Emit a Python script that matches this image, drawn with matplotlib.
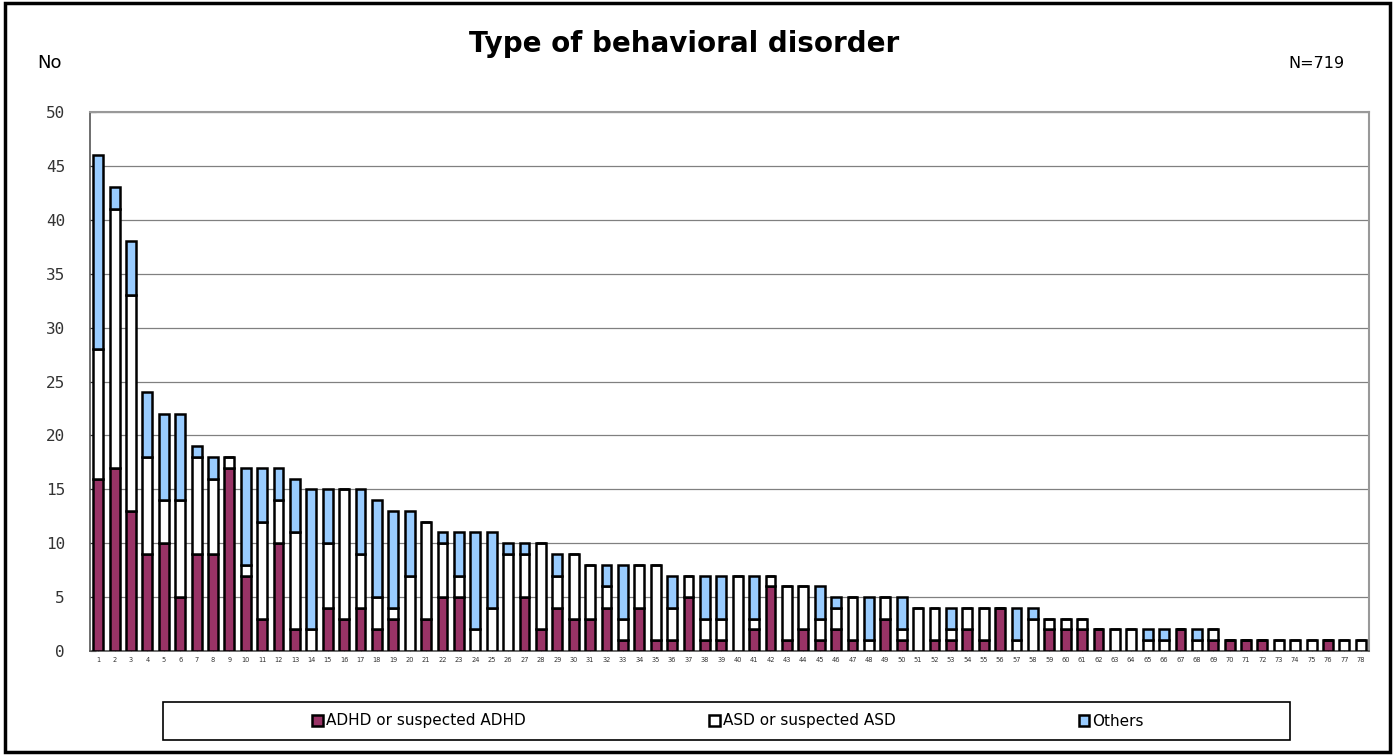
import matplotlib
matplotlib.use("Agg")
import matplotlib.pyplot as plt
from matplotlib.patches import Rectangle
import numpy as np

categories = [str(i) for i in range(1, 79)]
adhd = [16, 17, 13, 9, 10, 5, 9, 9, 17, 7, 3, 10, 2, 0, 4, 3, 4, 2, 3, 0,
        3, 5, 5, 0, 0, 0, 5, 2, 4, 3, 3, 4, 1, 4, 1, 1, 5, 1, 1, 0,
        2, 6, 1, 2, 1, 2, 1, 0, 3, 1, 0, 1, 1, 2, 1, 4, 0, 0, 2, 2,
        2, 2, 0, 0, 0, 0, 2, 0, 1, 1, 1, 1, 0, 0, 0, 1, 0, 0]
asd = [12, 24, 20, 9, 4, 9, 9, 7, 1, 1, 9, 4, 9, 2, 6, 12, 5, 3, 1, 7,
       9, 5, 2, 2, 4, 9, 4, 8, 3, 6, 5, 2, 2, 4, 7, 3, 2, 2, 2, 7,
       1, 1, 5, 4, 2, 2, 4, 1, 2, 1, 4, 3, 1, 2, 3, 0, 1, 3, 1, 1,
       1, 0, 2, 2, 1, 1, 0, 1, 1, 0, 0, 0, 1, 1, 1, 0, 1, 1]
others = [18, 2, 5, 6, 8, 8, 1, 2, 0, 9, 5, 3, 5, 13, 5, 0, 6, 9, 9, 6,
          0, 1, 4, 9, 7, 1, 1, 0, 2, 0, 0, 2, 5, 0, 0, 3, 0, 4, 4, 0,
          4, 0, 0, 0, 3, 1, 0, 4, 0, 3, 0, 0, 2, 0, 0, 0, 3, 1, 0, 0,
          0, 0, 0, 0, 1, 1, 0, 1, 0, 0, 0, 0, 0, 0, 0, 0, 0, 0]
series_names = ["ADHD or suspected ADHD", "ASD or suspected ASD", "Others"]
colors = ["#993366", "#FFFFFF", "#99CCFF"]
yticks = [0, 5, 10, 15, 20, 25, 30, 35, 40, 45, 50]

W, H = 1396, 755
fig = plt.figure(figsize=(W / 100, H / 100), dpi=100)

# outer frame
fig.patches.append(Rectangle((5 / W, 3 / H), 1385 / W, 749 / H, transform=fig.transFigure,
                             fill=False, edgecolor="black", linewidth=2.5, zorder=0))

ax = fig.add_axes([90 / W, 1 - 651 / H, (1369 - 90) / W, (651 - 112) / H])
x = np.arange(1, len(categories) + 1)
a = np.array(adhd)
b = np.array(asd)
c = np.array(others)
kw = dict(width=0.6, edgecolor="black", linewidth=1.8, zorder=3)
ax.bar(x, a, color=colors[0], label=series_names[0], **kw)
ax.bar(x, b, bottom=a, color=colors[1], label=series_names[1], **kw)
ax.bar(x, c, bottom=a + b, color=colors[2], label=series_names[2], **kw)

ax.set_xlim(0.5, len(categories) + 0.5)
ax.set_ylim(0, 50)
ax.set_yticks(yticks)
ax.set_yticklabels([str(v) for v in yticks], family="DejaVu Sans Mono", fontsize=11.5)
ax.set_xticks(x)
ax.set_xticklabels(categories, fontsize=4.8, family="DejaVu Sans")
ax.yaxis.grid(True, color="#808080", linewidth=0.9, zorder=0)
ax.set_axisbelow(True)
for s in ["top", "right"]:
    ax.spines[s].set_color("#999999")
    ax.spines[s].set_linewidth(1.5)
for s in ["left", "bottom"]:
    ax.spines[s].set_color("#555555")
    ax.spines[s].set_linewidth(1.2)
ax.tick_params(axis="y", length=4, direction="in", pad=18, colors="#333333")
ax.tick_params(axis="x", length=3, direction="in", pad=4, colors="#333333")

fig.text(684 / W, 1 - 44 / H, "Type of behavioral disorder", ha="center", va="center",
         fontsize=20, fontweight="bold", family="DejaVu Sans")
fig.text(37 / W, 1 - 63 / H, "No", ha="left", va="center", fontsize=13, family="DejaVu Sans")
fig.text(1345 / W, 1 - 63 / H, "N=719", ha="right", va="center", fontsize=11.5, family="DejaVu Sans")

# legend box
fig.patches.append(Rectangle((163 / W, 1 - 740 / H), (1290 - 163) / W, 38 / H,
                             transform=fig.transFigure, fill=True, facecolor="white",
                             edgecolor="black", linewidth=1.2, zorder=1))
handles, labels = ax.get_legend_handles_labels()
leg = fig.legend(handles, labels, loc="center", ncol=3,
                 bbox_to_anchor=(728 / W, 1 - 721 / H),
                 frameon=False, handlelength=0.7, handleheight=0.7, handletextpad=0.2,
                 columnspacing=12.0, prop={"family": "DejaVu Sans", "size": 11})
leg.set_zorder(2)

fig.savefig("out.png", dpi=100)
